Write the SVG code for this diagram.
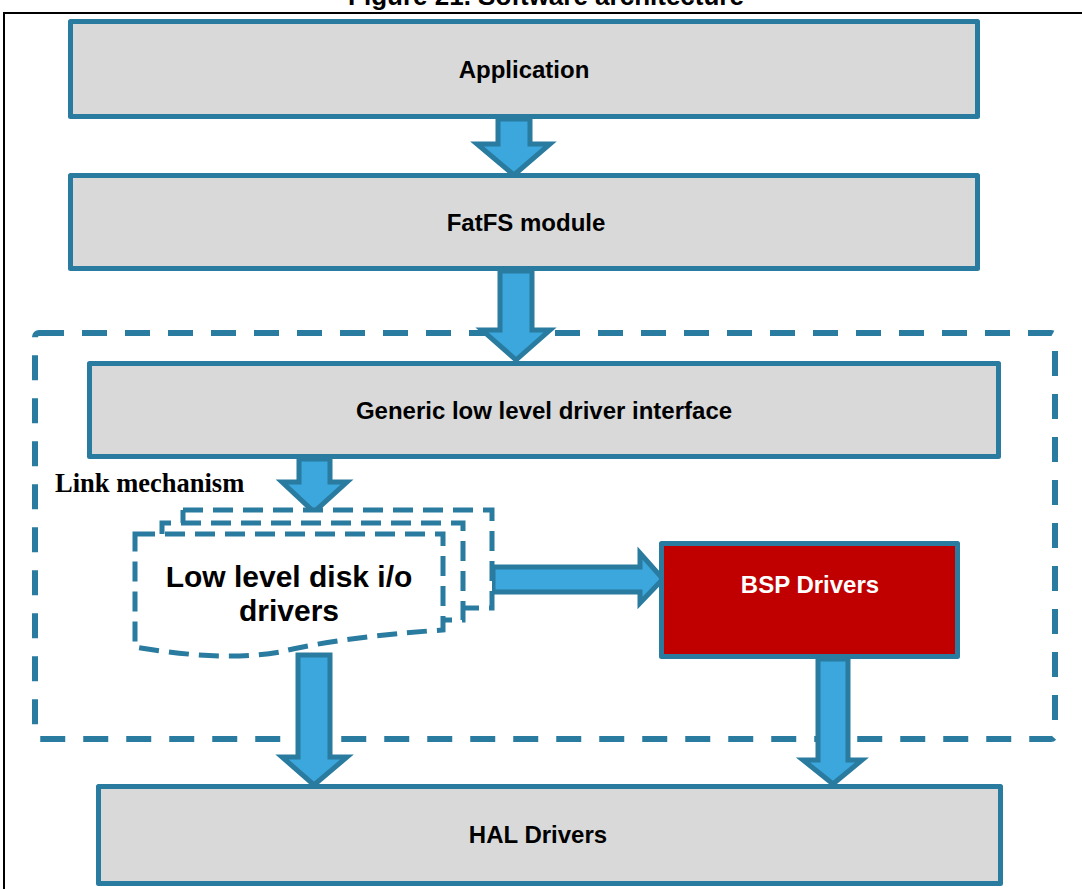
<svg xmlns="http://www.w3.org/2000/svg" width="1082" height="889" viewBox="0 0 1082 889">
<style>
.box{fill:#d9d9d9;stroke:#2a7ba0;stroke-width:5;stroke-linejoin:round}
.bsp{fill:#c00000;stroke:#2a7ba0;stroke-width:5;stroke-linejoin:round}
.arrow{fill:#3ba7dc;stroke:#2a7ba0;stroke-width:5;stroke-linejoin:miter}
.dash{fill:none;stroke:#2a7ba0;stroke-width:6;stroke-dasharray:25 18}
.doc{fill:#fff;stroke:#2a7ba0;stroke-width:5;stroke-dasharray:20 10}
.t{font-family:"Liberation Sans",Arial,sans-serif;font-weight:bold;font-size:24px;text-anchor:middle;fill:#000}
</style>
<rect width="1082" height="889" fill="#fff"/>
<text x="546" y="5" class="t" style="font-size:26px">Figure 21. Software architecture</text>
<rect x="4" y="13" width="1100" height="900" fill="none" stroke="#000" stroke-width="2"/>

<g id="container">
<rect x="35" y="333" width="1020" height="406" rx="4" class="dash"/>
<text x="55" y="492" font-family="Liberation Serif,Times New Roman,serif" font-weight="bold" font-size="26.5">Link mechanism</text>
</g>

<g id="connectors">
<path class="arrow" d="M498,119 L530,119 L530,144 L550,144 L514,175 L477,144 L498,144 Z"/>
<path class="arrow" d="M500,271 L532,271 L532,330 L550,330 L516,360 L482,330 L500,330 Z"/>
<path class="arrow" d="M299,459 L330,459 L330,482 L347,482 L314,512 L282,482 L299,482 Z"/>
<path class="arrow" d="M298,655 L330,655 L330,757 L347,757 L314,785 L282,757 L298,757 Z"/>
<path class="arrow" d="M818,659 L848,659 L848,760 L862,760 L833,784 L803,760 L818,760 Z"/>
<path class="arrow" d="M493,567 L640,567 L640,553 L663,579 L640,603 L640,592 L493,592 Z"/>
</g>

<g id="application">
<rect x="70.5" y="21.5" width="907" height="95" class="box"/>
<text x="524" y="78" class="t">Application</text>
</g>

<g id="fatfs">
<rect x="70.5" y="175.5" width="907" height="93" class="box"/>
<text x="526" y="231" class="t">FatFS module</text>
</g>

<g id="generic">
<rect x="89.5" y="363.5" width="909" height="93" class="box"/>
<text x="544" y="419" class="t">Generic low level driver interface</text>
</g>

<g id="lowlevel">
<path class="doc" d="M183,510 L492,510 L492,608 L463,608"/>
<path class="doc" d="M183,523 L183,510"/>
<path class="doc" d="M162,534 L162,523 L463,523 L463,620 L443,620"/>
<path class="doc" d="M135,534 L443,534 L443,630 C 380,634 320,642 280,652 C 230,661 170,653 135,647 Z"/>
<text x="289" y="587" class="t" style="font-size:30px">Low level disk i/o</text>
<text x="289" y="621" class="t" style="font-size:30px">drivers</text>
</g>

<g id="bsp">
<rect x="661.5" y="543.5" width="296" height="113" class="bsp"/>
<text x="810" y="593" class="t" style="fill:#fff">BSP Drivers</text>
</g>

<g id="hal">
<rect x="98.5" y="786.5" width="902" height="97" class="box"/>
<text x="538" y="843" class="t">HAL Drivers</text>
</g>
</svg>
